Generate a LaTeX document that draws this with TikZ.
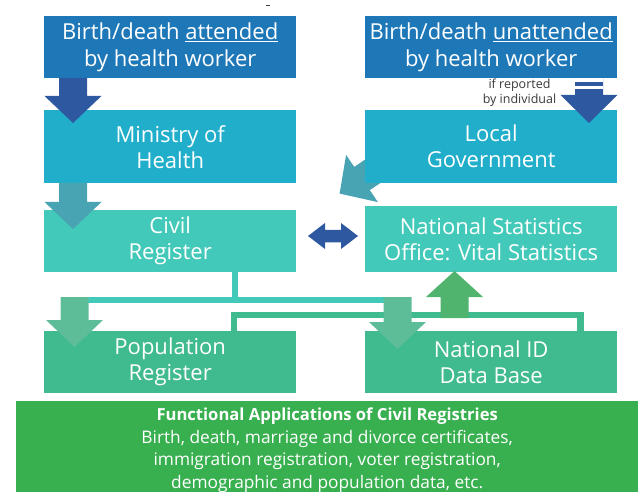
\documentclass[tikz,border=0pt]{standalone}
\usepackage{fontspec}
\setmainfont{Open Sans}
\usetikzlibrary{calc}
\definecolor{topblue}{HTML}{1E78B8}
\definecolor{cyanbox}{HTML}{21AECB}
\definecolor{tealbox}{HTML}{43C9B9}
\definecolor{greenbox}{HTML}{40BA8F}
\definecolor{appgreen}{HTML}{39B050}
\definecolor{darkarrow}{HTML}{2E58A0}
\definecolor{tealarrow}{HTML}{48A3B2}
\definecolor{lgarrow}{HTML}{5EBD99}
\definecolor{uparrow}{HTML}{50B46E}
\definecolor{notegray}{HTML}{3A3A3A}
% vertical block arrow: colour, centre x, shaft start y, head base y, tip y
\newcommand\vblock[5]{%
  \fill[#1] ({#2-14},#3) -- ({#2+14},#3) -- ({#2+14},#4) -- ({#2+28.5},#4)
    -- (#2,#5) -- ({#2-28.5},#4) -- ({#2-14},#4) -- cycle;}
\begin{document}
\begin{tikzpicture}[x=1pt,y=-1pt,
  box/.style={rectangle, inner sep=0pt, minimum width=252pt, anchor=north west,
    text=white, align=center, font=\fontsize{22}{26}\selectfont},
  conn/.style={line width=6pt},
  ]
\useasboundingbox (0,0) rectangle (638,492);
% tiny mark at top
\draw[line width=0.8pt, black!75] (266,5) -- (270,5);

% diagonal arrow (behind Local Government box)
\fill[tealarrow] (403,167.8) -- (369.8,190.1) -- (377.9,202.1) -- (339.6,193.6)
  -- (346.1,154.9) -- (354.2,166.9) -- (387.4,144.6) -- cycle;

% boxes
\node[box, fill=topblue, minimum height=62pt, font=\fontsize{22}{26.5}\selectfont] (att) at (44,16)
  {Birth/death \underline{attended}\\by health worker};
\node[box, fill=topblue, minimum height=62pt, font=\fontsize{22}{26.5}\selectfont] (unatt) at (365,16)
  {Birth/death \underline{unattended}\\by health worker};
\node[box, fill=cyanbox, minimum height=73pt] (moh) at (44,110)
  {Ministry of\\Health};
\node[box, fill=cyanbox, minimum height=73pt] (lg) at (365,110)
  {Local\\Government};
\node[box, fill=tealbox, minimum height=62pt] (civ) at (44,210)
  {Civil\\Register};
\node[box, fill=tealbox, minimum height=66pt] (nso) at (365,206)
  {National Statistics\\Office: Vital Statistics};
\node[box, fill=greenbox, minimum height=62pt] (pop) at (44,331)
  {Population\\Register};
\node[box, fill=greenbox, minimum height=62pt] (nid) at (365,331)
  {National ID\\Data Base};
\node[box, fill=appgreen, minimum width=622pt, minimum height=91pt] (func) at (16,401) {};
\node[text=white, align=center, inner sep=0pt, font=\fontsize{17.3}{22.5}\selectfont]
  (functext) at ($(func.center)+(0,3.5)$)
  {\textbf{\fontsize{16.6}{22.5}\selectfont Functional Applications of Civil Registries}\\
   Birth, death, marriage and divorce certificates,\\
   immigration registration, voter registration,\\
   demographic and population data, etc.};

% note
\node[text=notegray, align=center, font=\fontsize{12.5}{15}\selectfont, inner sep=0pt]
  (note) at (519.5,93) {if reported\\by individual};

% named coordinates for connectors
\coordinate (tj) at ($(civ.south west)+(190.5,0)$);
\coordinate (tl) at (61,300);
\coordinate (tr) at (411,300);
\coordinate (ga) at ($(pop.north west)+(190,0)$);
\coordinate (gb) at ($(nid.north west)+(215.5,0)$);

% teal connector from Civil Register
\draw[conn, tealbox] (tj) -- (tj |- tl);
\draw[conn, tealbox] (tl) -- (tr);
% green connector between Population Register and National ID
\draw[conn, greenbox, line width=6.5pt] (ga) -- ++(0,-16) -| (gb);

% vertical block arrows
\vblock{darkarrow}{73}{78}{96}{123}
\vblock{darkarrow}{589}{78}{95}{123}
\fill[white] (575,78) rectangle (603,82);
\fill[white] (575,86.5) rectangle (603,89);
\vblock{tealarrow}{73}{183}{202}{229}
\vblock{lgarrow}{74.5}{297}{320}{347}
\vblock{lgarrow}{397.5}{297}{322}{349}
\vblock{uparrow}{454.5}{318}{297}{271}

% double arrow between Civil Register and NSO
\fill[darkarrow] (308,236) -- (325,223) -- (325,230) -- (341,230) -- (341,223)
  -- (358,236) -- (341,249) -- (341,242.5) -- (325,242.5) -- (325,249) -- cycle;
\end{tikzpicture}
\end{document}
